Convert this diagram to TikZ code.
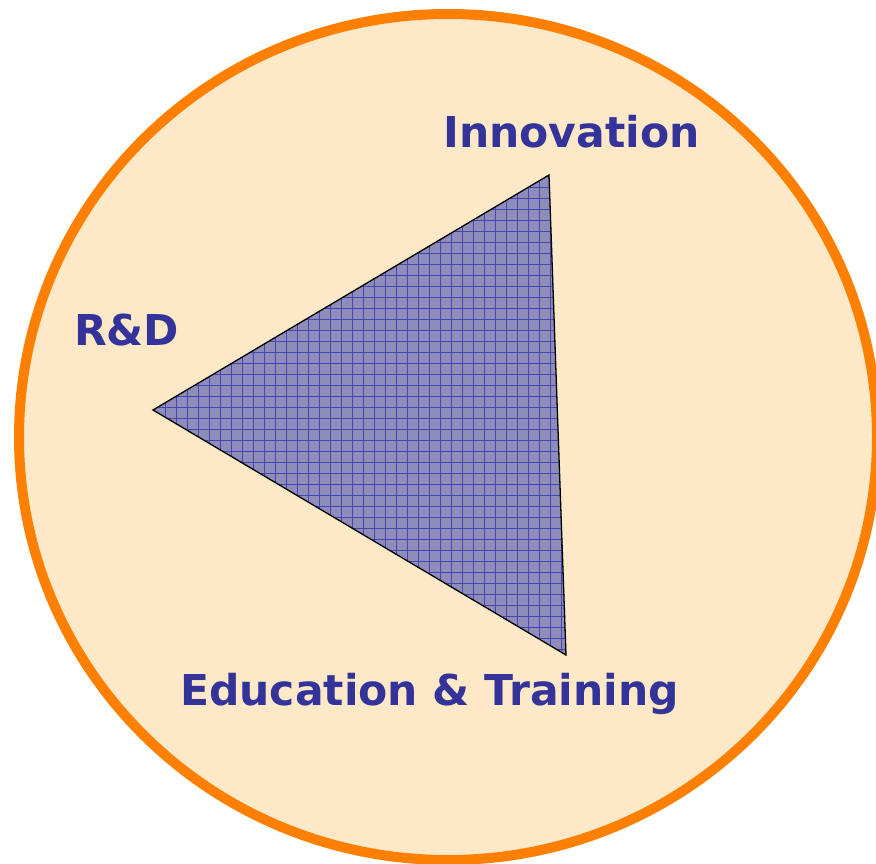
\documentclass[tikz,border=0pt]{standalone}
\usepackage{fontspec}
\setmainfont{DejaVu Sans}
\usetikzlibrary{shapes.geometric}
\definecolor{bgfill}{RGB}{253,232,200}
\definecolor{ringorange}{RGB}{255,128,0}
\definecolor{labelblue}{RGB}{51,51,153}
\definecolor{trifill}{RGB}{142,140,186}
\definecolor{gridblue}{RGB}{70,70,175}
\tikzset{
  ring/.style={draw=ringorange, line width=10pt, fill=bgfill},
  label/.style={text=labelblue, font=\bfseries\fontsize{42.5}{48}\selectfont, inner sep=0pt, anchor=base west},
  tri/.style={draw=black, line width=1.3pt, line join=miter}
}
\begin{document}
\begin{tikzpicture}[x=1pt,y=-1pt]
\useasboundingbox (0,0) rectangle (876,864);
\node[ring, ellipse, minimum width=858pt, minimum height=846pt, inner sep=0pt] (circ) at (448,437) {};
\coordinate (rd) at (153,410);
\coordinate (inn) at (549,175);
\coordinate (edu) at (566,655);
\begin{scope}
  \clip (rd) -- (inn) -- (edu) -- cycle;
  \fill[trifill] (140,160) rectangle (580,670);
  \draw[gridblue, line width=0.8pt, step=11pt] (140,160) grid (580,670);
\end{scope}
\draw[tri] (rd) -- (inn) -- (edu) -- cycle;
\node[label] (linn) at (443,148) {Innovation};
\node[label] (lrd) at (74,345) {R\&D};
\node[label] (ledu) at (180,705) {Education \& Training};
\end{tikzpicture}
\end{document}
